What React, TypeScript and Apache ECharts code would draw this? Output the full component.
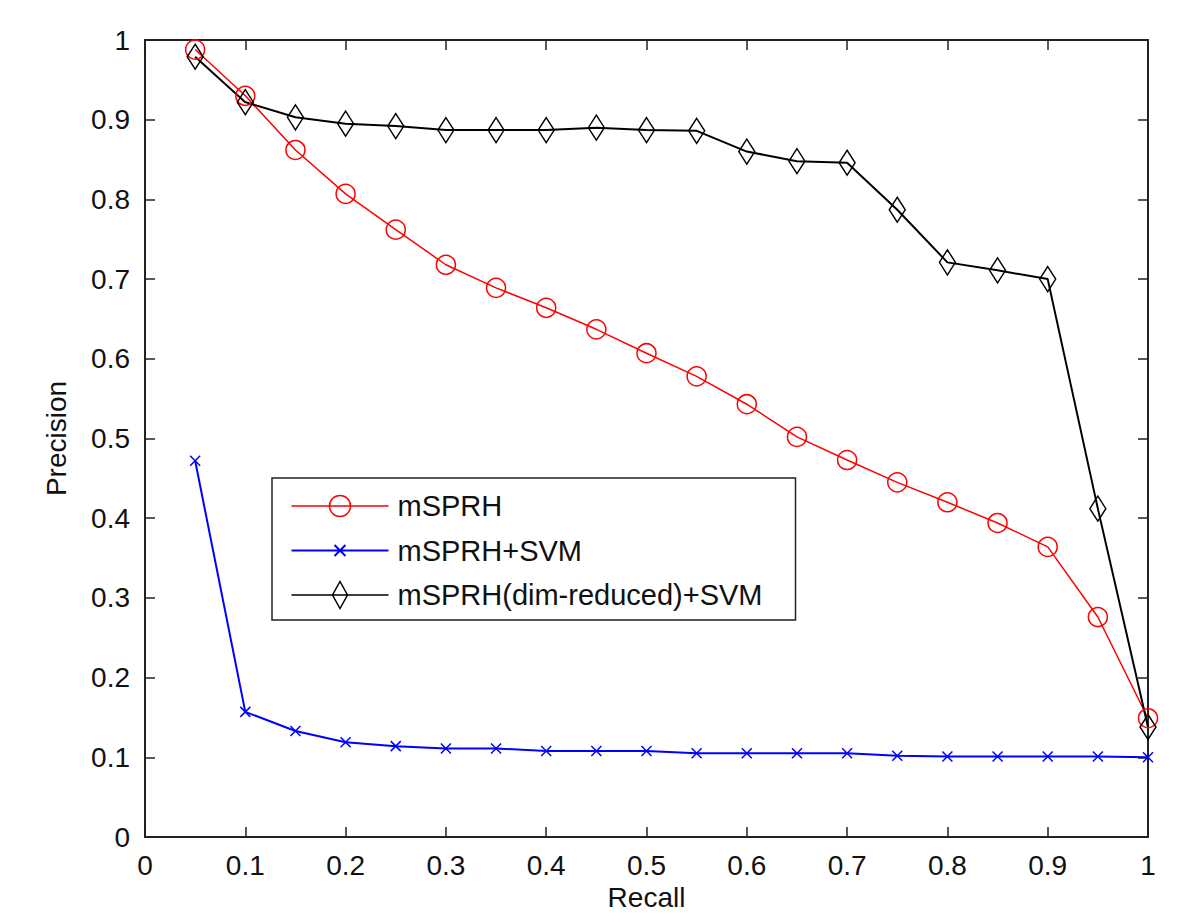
import React, { useEffect, useRef } from "react";
import * as echarts from "echarts";

const recall = [0.05, 0.1, 0.15, 0.2, 0.25, 0.3, 0.35, 0.4, 0.45, 0.5, 0.55, 0.6, 0.65, 0.7, 0.75, 0.8, 0.85, 0.9, 0.95, 1.0];
const msprh = [0.988, 0.93, 0.862, 0.807, 0.762, 0.718, 0.689, 0.664, 0.637, 0.607, 0.578, 0.543, 0.502, 0.473, 0.445, 0.42, 0.394, 0.364, 0.276, 0.149];
const msprhSvm = [0.472, 0.157, 0.133, 0.119, 0.114, 0.111, 0.111, 0.108, 0.108, 0.108, 0.105, 0.105, 0.105, 0.105, 0.102, 0.101, 0.101, 0.101, 0.101, 0.1];
const msprhDimSvm = [0.979, 0.922, 0.903, 0.895, 0.892, 0.887, 0.887, 0.887, 0.89, 0.887, 0.886, 0.86, 0.848, 0.846, 0.787, 0.721, 0.711, 0.7, 0.412, 0.138];
const seriesNames = ["mSPRH", "mSPRH+SVM", "mSPRH(dim-reduced)+SVM"];
const xTickLabels = ["0", "0.1", "0.2", "0.3", "0.4", "0.5", "0.6", "0.7", "0.8", "0.9", "1"];

const FONT = "'Liberation Sans', Arial, Helvetica, sans-serif";
const AXIS_COLOR = "#222";

const redIcon = "path://M0,0M97,27M0,13.5L97,13.5M59,13.5A10.5,10.5,0,1,1,38,13.5A10.5,10.5,0,1,1,59,13.5";
const blueIcon = "path://M0,0M97,27M0,13.5L97,13.5M43,8L54,19M54,8L43,19";
const blackIcon = "path://M0,0M97,27M0,13.5L97,13.5M48.5,0L56,13.5L48.5,27L41,13.5Z";
const xMark = "path://M0,0L10,10M10,0L0,10";

function pairs(ys: number[]) {
  return recall.map((x, i) => [x, ys[i]]);
}

export default function App() {
  const ref = useRef<HTMLDivElement>(null);
  useEffect(() => {
    if (!ref.current) return;
    const chart = echarts.init(ref.current, undefined, { renderer: "svg" });
    const baseAxis = {
      type: "value" as const,
      min: 0,
      max: 1,
      interval: 0.1,
      axisLine: { show: true, onZero: false, lineStyle: { color: AXIS_COLOR, width: 2 } },
      axisTick: { show: true, inside: true, length: 10, lineStyle: { color: AXIS_COLOR, width: 1.5 } },
      splitLine: { show: false },
    };
    chart.setOption({
      animation: false,
      backgroundColor: "#fff",
      grid: { left: 145, top: 40, width: 1003, height: 797, containLabel: false, outerBoundsMode: "none" },
      xAxis: [
        {
          ...baseAxis,
          position: "bottom",
          name: "Recall",
          nameLocation: "middle",
          nameGap: 46,
          nameTextStyle: { fontFamily: FONT, fontSize: 28, color: "#111" },
          axisLabel: {
            margin: 14,
            fontFamily: FONT,
            fontSize: 28,
            color: "#111",
            formatter: (v: number) => xTickLabels[Math.round(v * 10)] ?? String(v),
          },
        },
        { ...baseAxis, position: "top", axisLabel: { show: false } },
      ],
      yAxis: [
        {
          ...baseAxis,
          position: "left",
          name: "Precision",
          nameLocation: "middle",
          nameGap: 75,
          nameTextStyle: { fontFamily: FONT, fontSize: 28, color: "#111" },
          axisLabel: {
            margin: 15,
            fontFamily: FONT,
            fontSize: 28,
            color: "#111",
            formatter: (v: number) => xTickLabels[Math.round(v * 10)] ?? String(v),
          },
        },
        { ...baseAxis, position: "right", axisLabel: { show: false } },
      ],
      legend: {
        orient: "vertical",
        left: 272,
        top: 478,
        padding: [12, 33, 9, 17],
        itemWidth: 97,
        itemHeight: 27,
        itemGap: 12.5,
        borderColor: AXIS_COLOR,
        borderWidth: 1.5,
        backgroundColor: "#fff",
        symbolKeepAspect: false,
        selectedMode: false,
        textStyle: { fontFamily: FONT, fontSize: 29, color: "#111", lineHeight: 28, padding: [0, 0, 0, 4] },
        data: [
          { name: seriesNames[0], icon: redIcon, itemStyle: { color: "none", borderColor: "#ff0000", borderWidth: 1.5 } },
          { name: seriesNames[1], icon: blueIcon, itemStyle: { color: "none", borderColor: "#0000ff", borderWidth: 2 } },
          { name: seriesNames[2], icon: blackIcon, itemStyle: { color: "none", borderColor: "#000", borderWidth: 1.5 } },
        ],
      },
      series: [
        {
          name: seriesNames[0],
          type: "line",
          data: pairs(msprh),
          clip: false,
          symbol: "circle",
          symbolSize: 19,
          lineStyle: { color: "#ff0000", width: 1.5 },
          itemStyle: { color: "none", borderColor: "#ff0000", borderWidth: 1.5 },
        },
        {
          name: seriesNames[1],
          type: "line",
          data: pairs(msprhSvm),
          clip: false,
          symbol: xMark,
          symbolSize: 10,
          lineStyle: { color: "#0000ff", width: 2 },
          itemStyle: { color: "none", borderColor: "#0000ff", borderWidth: 1.5 },
        },
        {
          name: seriesNames[2],
          type: "line",
          data: pairs(msprhDimSvm),
          clip: false,
          symbol: "diamond",
          symbolSize: [16, 25],
          lineStyle: { color: "#000", width: 2 },
          itemStyle: { color: "none", borderColor: "#000", borderWidth: 1.5 },
        },
      ],
    });
    return () => chart.dispose();
  }, []);
  return (
    <div
      ref={ref}
      style={{ position: "absolute", left: 0, top: 0, width: 1187, height: 913, background: "#fff" }}
    />
  );
}
